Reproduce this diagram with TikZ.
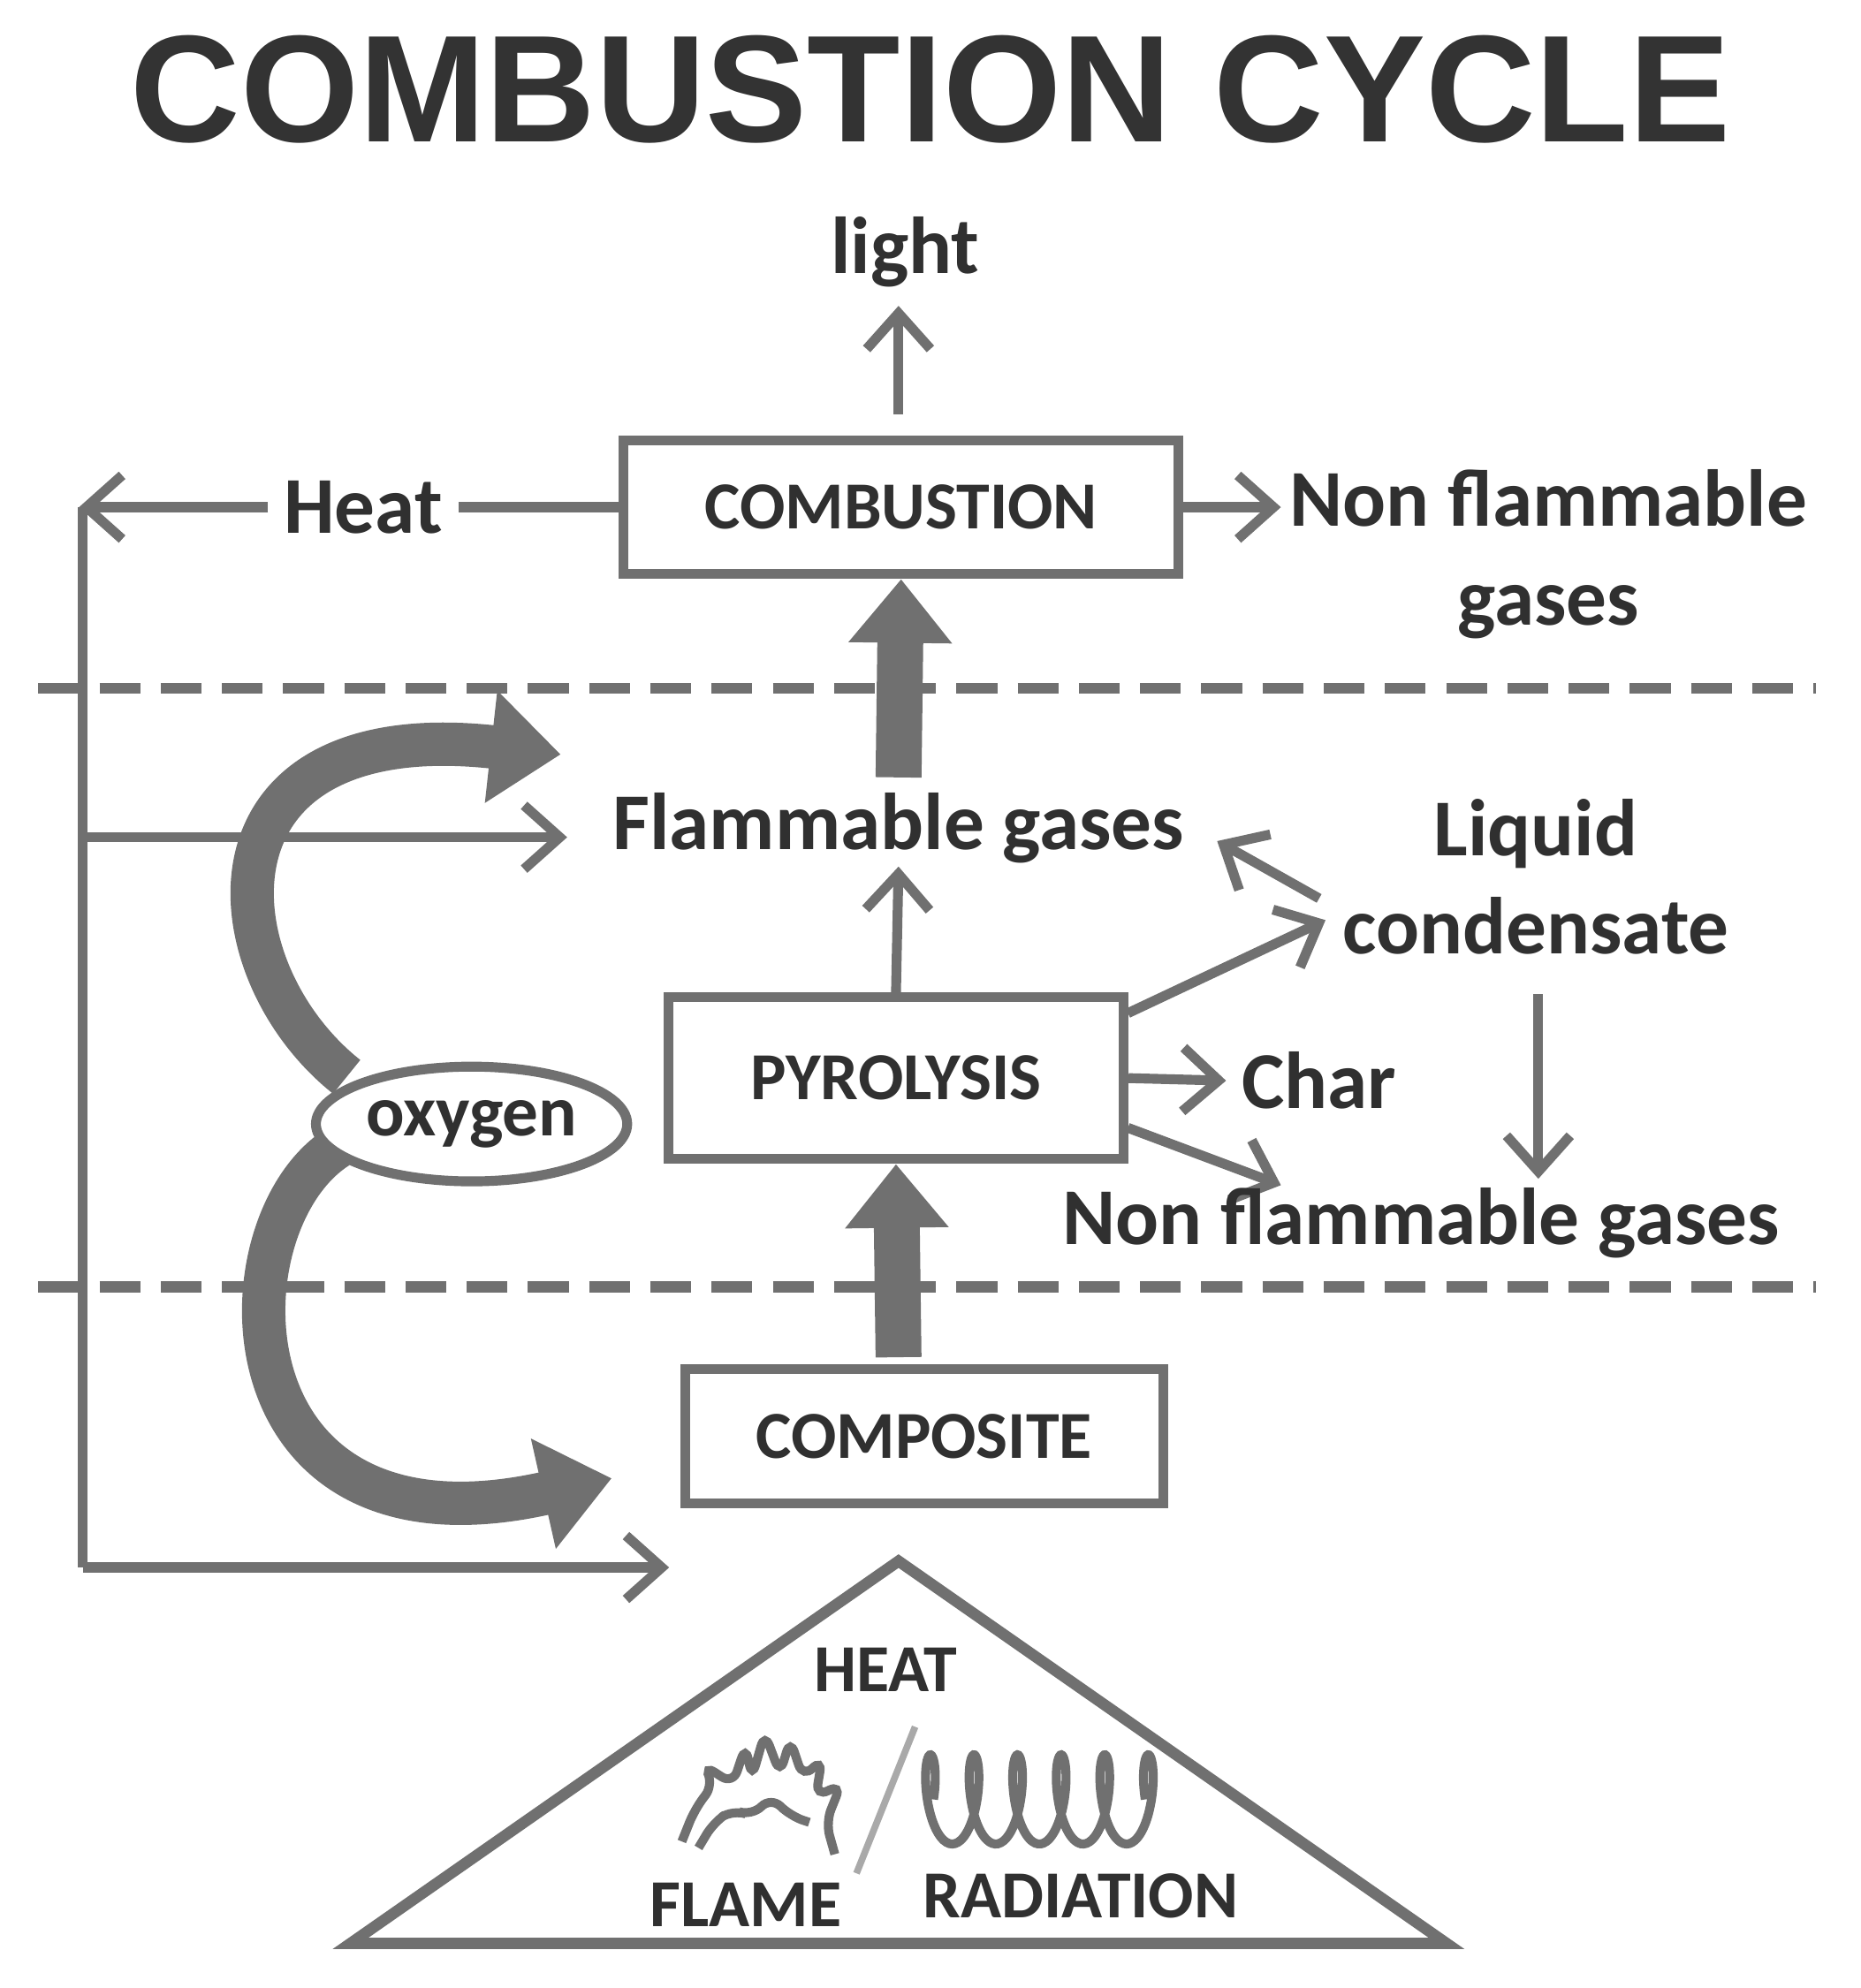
\documentclass[tikz,border=0pt]{standalone}
\usepackage{fontspec}
\setmainfont{Carlito}
\newfontfamily\titlefont{Liberation Sans}
\usetikzlibrary{arrows.meta,shapes.geometric}
\definecolor{ln}{HTML}{707070}
\definecolor{tx}{HTML}{303030}
\begin{document}
\begin{tikzpicture}[x=0.01cm,y=-0.01cm,
  every node/.style={text=tx,font=\bfseries\fontsize{18}{22}\selectfont},
  box/.style={draw=ln,line width=2.2pt,minimum height=1.05cm,font=\bfseries\fontsize{15}{18}\selectfont},
  ar/.style={draw=ln,line width=2.2pt,-{Straight Barb[length=0.28cm,width=0.5cm,line width=2.2pt]}},
  ln/.style={draw=ln,line width=2.2pt},
  fat/.style={draw=ln,line width=0.36cm,-{Triangle[length=0.5cm,width=0.78cm]}},
  dashln/.style={draw=ln,line width=2.5pt,dash pattern=on 0.32cm off 0.16cm}]
\useasboundingbox (0,0) rectangle (1460,1560);
\node[font=\titlefont\bfseries\fontsize{34}{38}\selectfont,text=black!80] (title) at (730,70) {COMBUSTION CYCLE};
\node (light) at (710,198) {light};
\node[box,minimum width=4.35cm] (comb) at (707,398) {COMBUSTION};
\node (heat) at (285,398) {Heat};
\node[align=center] (nfg1) at (1215,435) {Non flammable\\gases};
\coordinate (tl) at (62,398);
\coordinate (bl) at (65,1230);
\coordinate (lt) at (705,240);
\draw[ar] (705,325) -- (lt);
\draw[ln] (comb.west) -- (heat.east);
\draw[ar] (heat.west) -- (tl);
\draw[ln] (65,398) -- (bl);
\draw[ar] (comb.east) -- (1005,398);
\draw[dashln] (30,540) -- (1425,540);
\draw[dashln] (30,1010) -- (1425,1010);
\node (fg) at (705,650) {Flammable gases};
\node[align=center] (lc) at (1205,688) {Liquid\\condensate};
\draw[fat] (705,610) -- (comb.south);
\coordinate (fl) at (445,657);
\draw[ar] (65,657) -- (fl);
\node[box,minimum width=3.57cm,minimum height=1.27cm] (pyr) at (703,846) {PYROLYSIS};
\draw[ar] (1035,705) -- (955,660);
\draw[ar] (pyr.north) -- (705,680);
\draw[ar] (885,795) -- (1040,722);
\node (char) at (1035,848) {Char};
\draw[ar] (pyr.east) -- (char.west);
\draw[ar] (885,885) -- (1005,930);
\node (nfg2) at (1115,960) {Non flammable gases};
\draw[ar] (1207,780) -- (1207,925);
\node[box,minimum width=3.75cm] (comp) at (725,1127) {COMPOSITE};
\draw[fat] (705,1065) -- (pyr.south);
\coordinate (ba) at (525,1230);
\draw[ar] (bl) -- (ba);
\draw[ln,line width=0.34cm,-{Triangle[length=0.55cm,width=0.85cm]}] (272,845) .. controls (165,760) and (150,560) .. (440,592);
\draw[ln,line width=0.34cm,-{Triangle[length=0.55cm,width=0.85cm]}] (265,900) .. controls (170,960) and (170,1230) .. (480,1160);
\node[ellipse,draw=ln,fill=white,line width=2.2pt,minimum width=2.3cm,minimum height=0.9cm,inner sep=1pt,font=\bfseries\fontsize{16}{19}\selectfont] (oxy) at (370,882) {oxygen};
\draw[ln,line width=2.5pt] (705,1225) -- (1135,1525) -- (275,1525) -- cycle;
\node[font=\bfseries\fontsize{15}{18}\selectfont] (hh) at (695,1310) {HEAT};
\node[font=\bfseries\fontsize{15}{18}\selectfont] (fla) at (585,1495) {FLAME};
\node[font=\bfseries\fontsize{15}{18}\selectfont] (rad) at (848,1488) {RADIATION};
\draw[draw=ln!60,line width=1.5pt] (718,1355) -- (672,1470);
\draw[ln,line width=2pt] plot[smooth,domain=-90:1890,samples=250] ({730+0.095*\x-11*sin(\x)},{1412-35*cos(\x)});
\draw[ln,line width=2pt,rounded corners=3pt] (535,1445) -- (545,1420) -- (560,1400) -- (552,1385) -- (575,1400) -- (585,1370) -- (590,1395) -- (600,1360) -- (612,1392) -- (620,1365) -- (630,1395) -- (645,1380) -- (640,1410) -- (660,1400) -- (648,1430) -- (655,1455);
\draw[ln,line width=2pt,rounded corners=3pt] (548,1450) -- (560,1430) -- (575,1420) -- (590,1425) -- (605,1410) -- (620,1425) -- (635,1430);
\end{tikzpicture}
\end{document}
